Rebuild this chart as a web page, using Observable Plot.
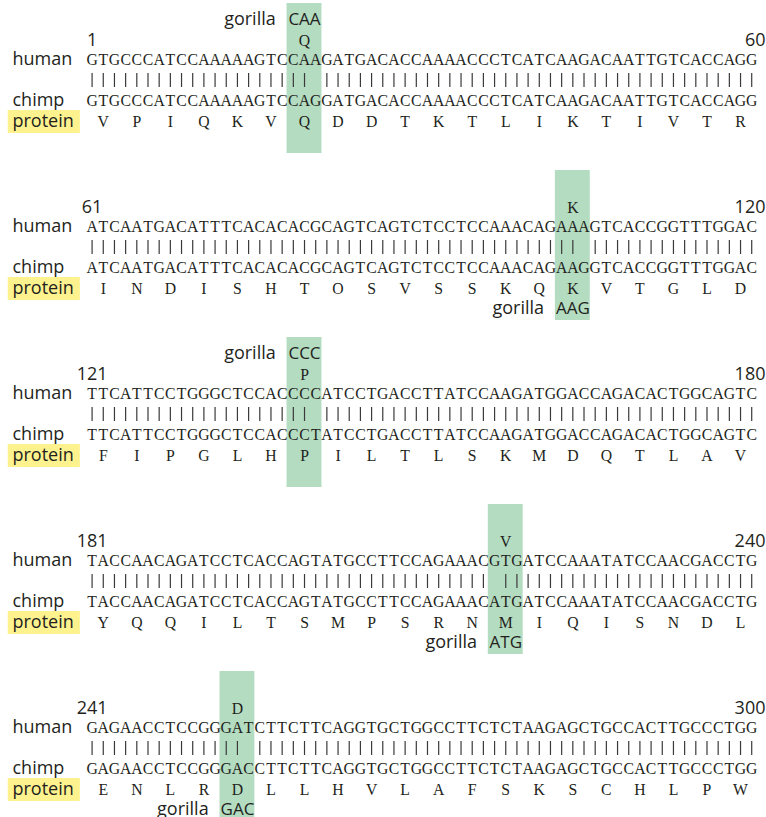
<!DOCTYPE html>
<html><head><meta charset="utf-8">
<script src="https://cdn.jsdelivr.net/npm/d3@7"></script>
<script src="https://cdn.jsdelivr.net/npm/@observablehq/plot@0.6"></script>
<style>body{margin:0;background:#fff}</style>
</head><body><div id="chart"></div>
<script>
// ---- data ----
const blockStart = [1, 61, 121, 181, 241];
const blockEnd = [60, 120, 180, 240, 300];
const humanSeq = [
  "GTGCCCATCCAAAAAGTCCAAGATGACACCAAAACCCTCATCAAGACAATTGTCACCAGG",
  "ATCAATGACATTTCACACACGCAGTCAGTCTCCTCCAAACAGAAAGTCACCGGTTTGGAC",
  "TTCATTCCTGGGCTCCACCCCATCCTGACCTTATCCAAGATGGACCAGACACTGGCAGTC",
  "TACCAACAGATCCTCACCAGTATGCCTTCCAGAAACGTGATCCAAATATCCAACGACCTG",
  "GAGAACCTCCGGGATCTTCTTCAGGTGCTGGCCTTCTCTAAGAGCTGCCACTTGCCCTGG"
];
const chimpSeq = [
  "GTGCCCATCCAAAAAGTCCAGGATGACACCAAAACCCTCATCAAGACAATTGTCACCAGG",
  "ATCAATGACATTTCACACACGCAGTCAGTCTCCTCCAAACAGAAGGTCACCGGTTTGGAC",
  "TTCATTCCTGGGCTCCACCCTATCCTGACCTTATCCAAGATGGACCAGACACTGGCAGTC",
  "TACCAACAGATCCTCACCAGTATGCCTTCCAGAAACATGATCCAAATATCCAACGACCTG",
  "GAGAACCTCCGGGACCTTCTTCAGGTGCTGGCCTTCTCTAAGAGCTGCCACTTGCCCTGG"
];
const proteinSeq = [
  "VPIQKVQDDTKTLIKTIVTR",
  "INDISHTOSVSSKQKVTGLD",
  "FIPGLHPILTLSKMDQTLAV",
  "YQQILTSMPSRNMIQISNDL",
  "ENLRDLLHVLAFSKSCHLPW"
];
const changedCodon = [6, 14, 6, 12, 4];          // 0-based codon index in each block
const humanAA = ["Q", "K", "P", "V", "D"];
const gorillaCodon = ["CAA", "AAG", "CCC", "ATG", "GAC"];
const gorillaSide = ["top", "bottom", "top", "bottom", "bottom"];

// ---- layout (not data) ----
const blockGap = 167;
const row = {gorTop: 19, aaTop: 40, human: 59, bars: 80, chimp: 100, protein: 120.5, gorBottom: 141};
const monoFont = "Liberation Serif";
const sansFont = "Open Sans";
const ink = "#231f20";

const chars = [], bars = [], hl = [], gor = [], aaTop = [], nums = [], labels = [], yel = [];
humanSeq.forEach((hs, b) => {
  const yb = b * blockGap;
  for (let i = 0; i < hs.length; i++) {
    chars.push({x: i + 0.5, y: yb + row.human, t: hs[i]});
    chars.push({x: i + 0.5, y: yb + row.chimp, t: chimpSeq[b][i]});
    if (hs[i] === chimpSeq[b][i]) bars.push({x: i + 0.5, y1: yb + row.bars - 7, y2: yb + row.bars + 7});
  }
  [...proteinSeq[b]].forEach((a, k) => chars.push({x: k * 3 + 1.5, y: yb + row.protein, t: a}));
  const c = changedCodon[b];
  hl.push({x1: c * 3 - 0.06, x2: c * 3 + 3.06, y1: yb + row.gorTop - 16, y2: yb + row.gorBottom + 12});
  aaTop.push({x: c * 3 + 1.5, y: yb + row.aaTop, t: humanAA[b]});
  const gy = yb + (gorillaSide[b] === "top" ? row.gorTop : row.gorBottom);
  gor.push({x: c * 3, xc: c * 3 + 1.5, y: gy, codon: gorillaCodon[b]});
  nums.push({x: 0.5, y: yb + row.aaTop, start: String(blockStart[b]), end: String(blockEnd[b])});
  labels.push({y: yb + row.human, t: "human"}, {y: yb + row.chimp, t: "chimp"}, {y: yb + row.protein, t: "protein"});
  yel.push({y1: yb + row.protein - 10.5, y2: yb + row.protein + 12.5});
});

const chart = Plot.plot({
  width: 766,
  height: 817,
  margin: 0,
  x: {domain: [0, 60], range: [86, 756.8], axis: null},
  y: {domain: [0, 817], range: [0, 817], axis: null},
  marks: [
    Plot.rect(hl, {x1: "x1", x2: "x2", y1: "y1", y2: "y2", fill: "#b3dcc1"}),
    Plot.rect(yel, {x1: -7, x2: -0.55, y1: "y1", y2: "y2", fill: "#fdf28e"}),
    Plot.ruleX(bars, {x: "x", y1: "y1", y2: "y2", stroke: "#3a3a3a", strokeWidth: 1.2}),
    Plot.text(chars, {x: "x", y: "y", text: "t", fontFamily: monoFont, fontSize: 17.5, fill: ink}),
    Plot.text(aaTop, {x: "x", y: "y", text: "t", fontFamily: monoFont, fontSize: 17.5, fill: ink}),
    Plot.text(gor, {x: "xc", y: "y", text: "codon", fontFamily: sansFont, fontSize: 17, fill: ink}),
    Plot.text(gor, {x: "x", y: "y", text: () => "gorilla", dx: -12, textAnchor: "end", fontFamily: sansFont, fontSize: 18, fill: ink}),
    Plot.text(nums, {x: "x", y: "y", text: "start", fontFamily: sansFont, fontSize: 18, fill: ink}),
    Plot.text(nums, {y: "y", text: "end", frameAnchor: "right", dx: -1, textAnchor: "end", fontFamily: sansFont, fontSize: 18, fill: ink}),
    Plot.text(labels, {y: "y", text: "t", frameAnchor: "left", dx: 12, textAnchor: "start", fontFamily: sansFont, fontSize: 18, fill: ink})
  ]
});
// narrow the serif glyphs slightly so they read like a typewriter face
d3.select(chart).selectAll(`g[font-family="${monoFont}"] text`).each(function () {
  const t = this.getAttribute("transform") || "";
  this.setAttribute("transform", t + " scale(0.9,1)");
});
document.getElementById("chart").appendChild(chart);
</script>
</body></html>
